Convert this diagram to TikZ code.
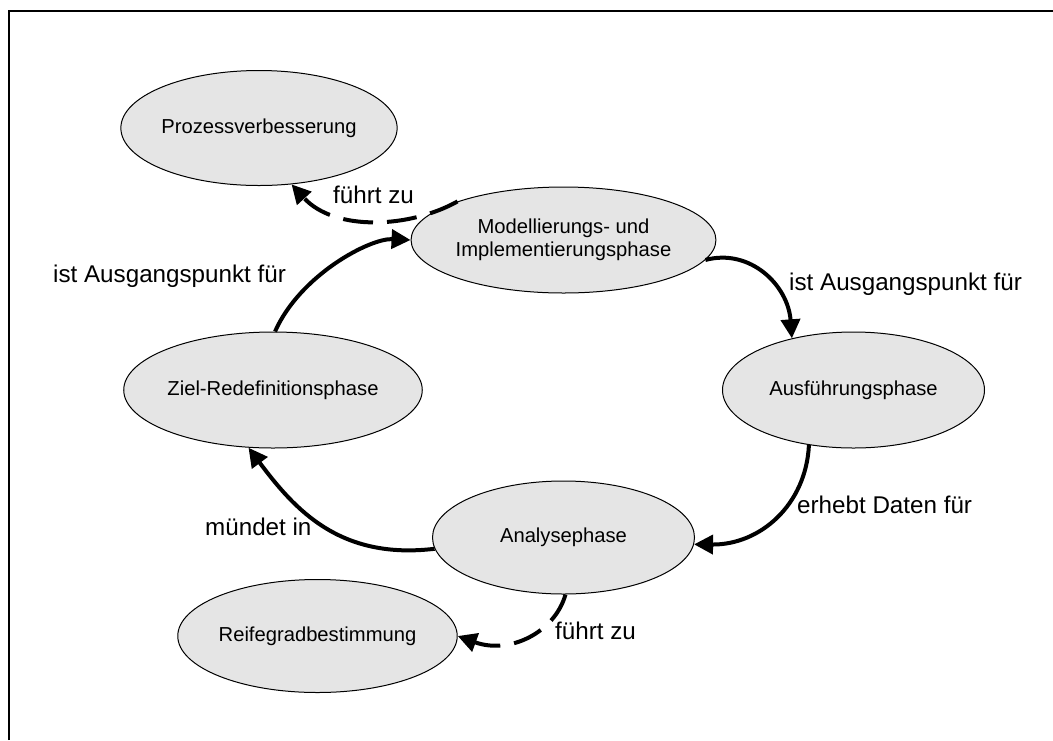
\documentclass[tikz,border=0pt]{standalone}
\usepackage{fontspec}
\setmainfont{Liberation Sans}
\usetikzlibrary{shapes.geometric,arrows.meta}

\tikzset{
  phase/.style={ellipse, draw=black, line width=1pt, fill=black!10,
    minimum width=262pt, minimum height=115pt, inner sep=0pt,
    font=\fontsize{20.2pt}{23pt}\selectfont, align=center},
  rel/.style={font=\fontsize{24.2pt}{28pt}\selectfont, inner sep=0pt},
  flow/.style={line width=4pt, -{Triangle[length=19pt,width=19pt]}},
  hint/.style={flow, dash pattern=on 30pt off 14pt},
  frameline/.style={line width=2pt}
}

\begin{document}
\begin{tikzpicture}[x=1pt,y=-1pt]
  \useasboundingbox (0,0) rectangle (1053,740);

  % open frame: left and top edge only
  \coordinate (fbl) at (9,740);
  \coordinate (ftl) at (9,11);
  \coordinate (ftr) at (1053,11);
  \draw[frameline] (fbl) -- (ftl) -- (ftr);

  % phases
  \node[phase] (proz) at (259,128) {Prozessverbesserung};
  \node[phase, minimum width=264pt, minimum height=106pt] (mod) at (563.5,240)
    {Modellierungs- und\\Implementierungsphase};
  \node[phase, minimum height=116pt] (ausf) at (853.5,390) {Ausführungsphase};
  \node[phase, minimum height=116pt] (ziel) at (273,390) {Ziel-Redefinitionsphase};
  \node[phase, minimum height=113pt] (ana) at (563.5,537.5) {Analysephase};
  \node[phase, minimum height=113pt] (reif) at (317.5,636) {Reifegradbestimmung};

  % relation labels
  \node[rel, anchor=base west] (l1) at (333,203) {führt zu};
  \node[rel, anchor=base west] (l2) at (53,282) {ist Ausgangspunkt für};
  \node[rel, anchor=base west] (l3) at (789,290) {ist Ausgangspunkt für};
  \node[rel, anchor=base west] (l4) at (797,513) {erhebt Daten für};
  \node[rel, anchor=base west] (l5) at (205,535) {mündet in};
  \node[rel, anchor=base west] (l6) at (555,639) {führt zu};

  % cycle
  \draw[flow] (ziel.88) .. controls (300,275) and (370,238) .. (mod.west);
  \draw[flow] (mod.-8) .. controls (750,248) and (788,285) .. (ausf.140);
  \draw[flow] (ausf.231) .. controls (806,505) and (760,545) .. (ana.-3);
  \draw[flow] (ana.185) .. controls (340,560) and (295,510) .. (ziel.247);

  % side results
  \draw[hint] (mod.160) .. controls (410,228) and (335,232) .. (proz.-60);
  \draw[hint] (ana.-88) .. controls (555,632) and (510,655) .. (reif.east);
\end{tikzpicture}
\end{document}
